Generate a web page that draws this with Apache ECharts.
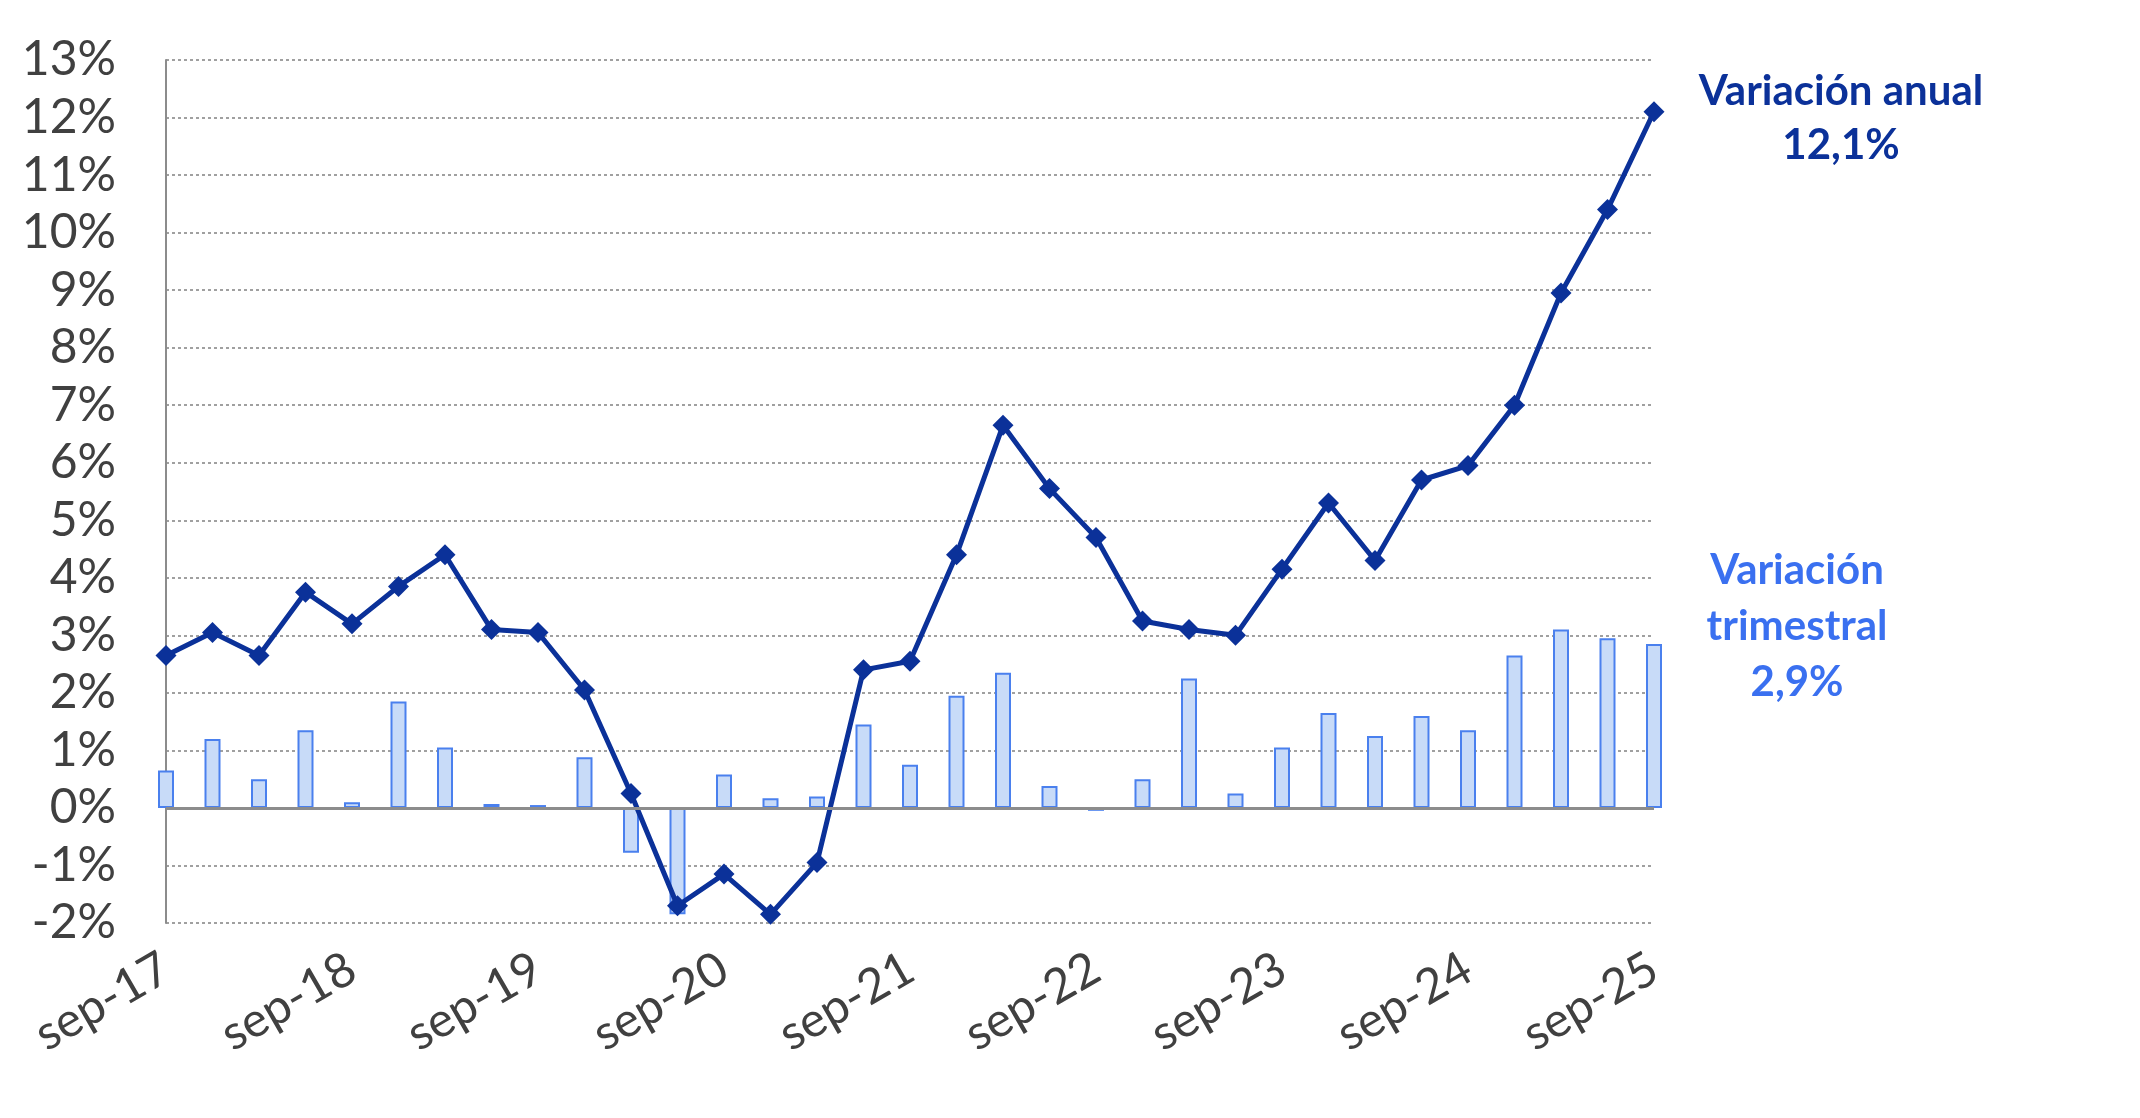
<!DOCTYPE html>
<html>
<head>
<meta charset="utf-8">
<script src="https://cdn.jsdelivr.net/npm/echarts@6/dist/echarts.min.js"></script>
<style>html,body{margin:0;background:#fff}#c{width:2140px;height:1118px}</style>
</head>
<body>
<div id="c"></div>
<script>
var quarters = ['sep-17','dic-17','mar-18','jun-18','sep-18','dic-18','mar-19','jun-19','sep-19','dic-19','mar-20','jun-20','sep-20','dic-20','mar-21','jun-21','sep-21','dic-21','mar-22','jun-22','sep-22','dic-22','mar-23','jun-23','sep-23','dic-23','mar-24','jun-24','sep-24','dic-24','mar-25','jun-25','sep-25']
var anual = [2.65,3.05,2.65,3.75,3.2,3.85,4.4,3.1,3.05,2.05,0.25,-1.7,-1.15,-1.85,-0.95,2.4,2.55,4.4,6.65,5.55,4.7,3.25,3.1,3.0,4.15,5.3,4.3,5.7,5.95,7.0,8.95,10.4,12.1]
var trimestral = [0.65,1.2,0.5,1.35,0.1,1.85,1.05,0.07,0.05,0.88,-0.78,-1.85,0.58,0.17,0.2,1.45,0.75,1.95,2.35,0.38,-0.05,0.5,2.25,0.25,1.05,1.65,1.25,1.6,1.35,2.65,3.1,2.95,2.85]

var chart = echarts.init(document.getElementById('c'))
var font = 'Lato, "Open Sans", sans-serif'
chart.setOption({
	backgroundColor: '#fff',
	animation: false,
	grid: { left: 166, right: 486, top: 60, bottom: 195 },
	xAxis: {
		type: 'category',
		data: quarters,
		boundaryGap: false,
		axisLine: { show: false },
		axisTick: { show: false },
		axisLabel: {
			interval: 3,
			rotate: 30,
			margin: 42,
			fontSize: 48,
			color: '#404040',
			fontFamily: font,
		},
	},
	yAxis: {
		type: 'value',
		min: -2,
		max: 13,
		interval: 1,
		axisLine: { show: true, lineStyle: { color: '#8c8c8c', width: 2 } },
		axisTick: { show: false },
		axisLabel: {
			fontSize: 48,
			color: '#404040',
			margin: 50,
			fontFamily: font,
			formatter: function (v) { return v + '%' },
		},
		splitLine: { lineStyle: { color: '#a0a0a0', type: [3, 3], width: 2 } },
	},
	series: [
		{
			type: 'bar',
			data: trimestral,
			barWidth: 16,
			itemStyle: { color: '#c8dbf8', borderColor: '#4a80ee', borderWidth: 2 },
			markLine: {
				silent: true,
				symbol: 'none',
				label: { show: false },
				lineStyle: { color: '#8c8c8c', type: 'solid', width: 3 },
				data: [{ yAxis: 0 }],
			},
		},
		{
			type: 'line',
			data: anual,
			symbol: 'diamond',
			symbolSize: 21,
			lineStyle: { color: '#0b3199', width: 5 },
			itemStyle: { color: '#0b3199' },
		},
	],
	graphic: [
		{ type: 'text', x: 1841, y: 64, style: { text: 'Variación anual\n12,1%', align: 'center', lineHeight: 54, fill: '#0b3199', font: 'bold 42px ' + font } },
		{ type: 'text', x: 1797, y: 542, style: { text: 'Variación\ntrimestral\n2,9%', align: 'center', lineHeight: 56, fill: '#3a70f0', font: 'bold 42px ' + font } },
	],
})
</script>
</body>
</html>
